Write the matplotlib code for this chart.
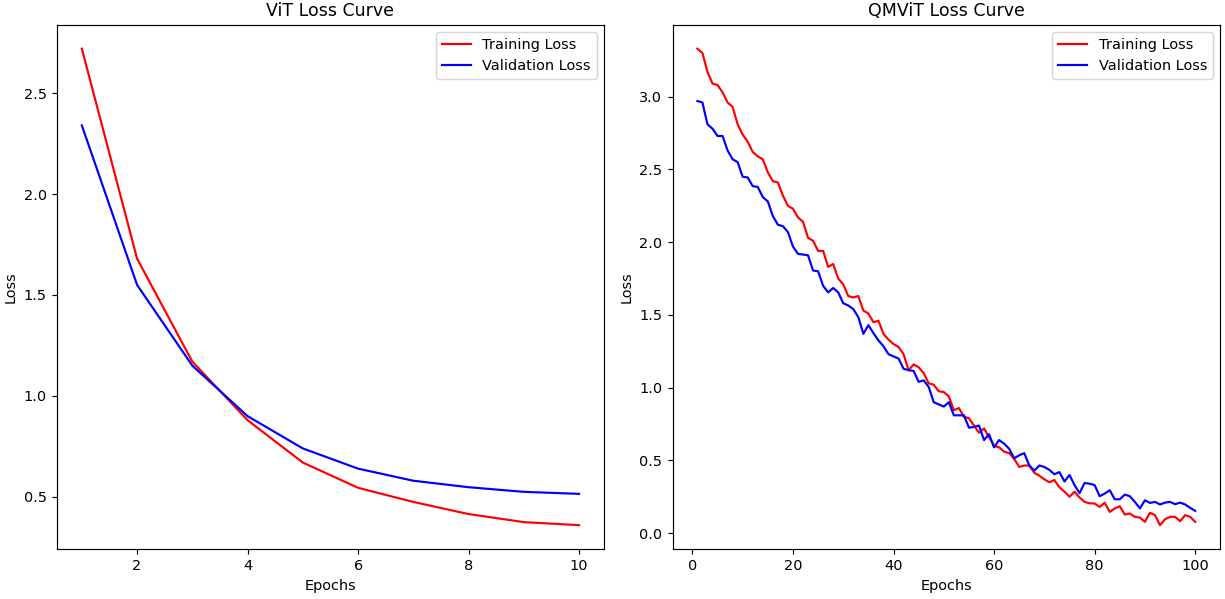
import matplotlib
matplotlib.use("Agg")
import matplotlib.pyplot as plt

vit_epochs = list(range(1, 11))
vit_train = [2.72, 1.68, 1.17, 0.88, 0.67, 0.545, 0.475, 0.415, 0.375, 0.36]
vit_val = [2.34, 1.55, 1.15, 0.90, 0.74, 0.64, 0.58, 0.548, 0.525, 0.515]

qm_epochs = list(range(1, 101))
qm_train = [
    3.33, 3.30, 3.17, 3.09, 3.08, 3.03, 2.96, 2.93, 2.81, 2.74,
    2.69, 2.62, 2.59, 2.57, 2.48, 2.42, 2.41, 2.32, 2.25, 2.23,
    2.17, 2.14, 2.03, 2.01, 1.94, 1.94, 1.83, 1.85, 1.75, 1.71,
    1.63, 1.62, 1.63, 1.53, 1.51, 1.45, 1.46, 1.37, 1.33, 1.30,
    1.28, 1.23, 1.12, 1.16, 1.14, 1.10, 1.03, 1.02, 0.975, 0.97,
    0.94, 0.845, 0.86, 0.80, 0.79, 0.74, 0.69, 0.72, 0.66, 0.60,
    0.59, 0.56, 0.55, 0.51, 0.455, 0.465, 0.465, 0.415, 0.395, 0.37,
    0.35, 0.365, 0.315, 0.285, 0.25, 0.285, 0.245, 0.215, 0.205, 0.204,
    0.18, 0.21, 0.146, 0.17, 0.185, 0.128, 0.135, 0.112, 0.107, 0.078,
    0.14, 0.124, 0.055, 0.096, 0.112, 0.112, 0.082, 0.124, 0.112, 0.078,
]
qm_val = [
    2.97, 2.96, 2.81, 2.78, 2.73, 2.73, 2.63, 2.57, 2.55, 2.45,
    2.445, 2.385, 2.38, 2.31, 2.28, 2.18, 2.12, 2.11, 2.07, 1.97,
    1.92, 1.915, 1.91, 1.805, 1.80, 1.70, 1.655, 1.685, 1.655, 1.58,
    1.565, 1.54, 1.485, 1.37, 1.43, 1.375, 1.325, 1.285, 1.23, 1.215,
    1.20, 1.13, 1.12, 1.115, 1.04, 1.05, 1.005, 0.90, 0.885, 0.87,
    0.90, 0.81, 0.81, 0.81, 0.725, 0.73, 0.74, 0.64, 0.68, 0.59,
    0.64, 0.615, 0.58, 0.515, 0.535, 0.55, 0.465, 0.43, 0.465, 0.455,
    0.435, 0.405, 0.42, 0.355, 0.40, 0.33, 0.275, 0.345, 0.34, 0.33,
    0.254, 0.272, 0.295, 0.233, 0.233, 0.265, 0.254, 0.215, 0.17, 0.226,
    0.208, 0.215, 0.197, 0.21, 0.215, 0.199, 0.21, 0.197, 0.174, 0.153,
]

DPI = 104.5
fig = plt.figure(figsize=(1225 / DPI, 599 / DPI), dpi=DPI)
ax1 = fig.add_axes([0.0465, 0.0835, 0.4465, 0.875])
ax2 = fig.add_axes([0.549, 0.0835, 0.447, 0.875])

ax1.plot(vit_epochs, vit_train, color="red", label="Training Loss")
ax1.plot(vit_epochs, vit_val, color="blue", label="Validation Loss")
ax1.set_title("ViT Loss Curve")
ax1.set_xlabel("Epochs")
ax1.set_ylabel("Loss")
ax1.legend(loc="upper right")

ax2.plot(qm_epochs, qm_train, color="red", label="Training Loss")
ax2.plot(qm_epochs, qm_val, color="blue", label="Validation Loss")
ax2.set_title("QMViT Loss Curve")
ax2.set_xlabel("Epochs")
ax2.set_ylabel("Loss")
ax2.legend(loc="upper right")

fig.savefig("out.png", dpi=DPI)
